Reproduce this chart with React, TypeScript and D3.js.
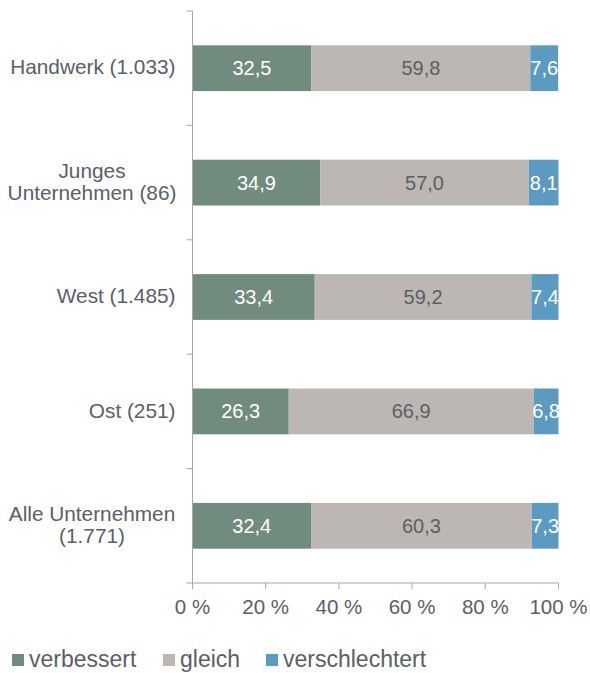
import React from "react";
import * as d3 from "d3";

const categories = ["Handwerk (1.033)", "Junges|Unternehmen (86)", "West (1.485)", "Ost (251)", "Alle Unternehmen|(1.771)"];
const verbessert = [32.5, 34.9, 33.4, 26.3, 32.4];
const gleich = [59.8, 57.0, 59.2, 66.9, 60.3];
const verschlechtert = [7.6, 8.1, 7.4, 6.8, 7.3];
const seriesNames = ["verbessert", "gleich", "verschlechtert"];
const xTicks = [0, 20, 40, 60, 80, 100];

const colors = ["#718B7E", "#BCB7B2", "#5B9BC1"];
const labelColors = ["#ffffff", "#5A6066", "#ffffff"];
const font = "Liberation Sans, Arial, sans-serif";
const textColor = "#5A6066";

export default function App() {
  const W = 590, H = 673;
  const left = 192.5, right = 558.5, top = 11, bottom = 583;
  const x = d3.scaleLinear().domain([0, 100]).range([left, right]);
  const y = d3.scaleBand<number>().domain(d3.range(categories.length)).range([top, bottom]).paddingInner(0.6).paddingOuter(0.3);
  const step = y.step();
  const series = [verbessert, gleich, verschlechtert];
  const fmt = (v: number) => v.toFixed(1).replace(".", ",");

  return (
    <svg width={W} height={H} style={{ display: "block", position: "absolute", left: 0, top: 0 }} fontFamily={font}>
      {categories.map((c, i) => {
        let acc = 0;
        return (
          <g key={i}>
            {series.map((s, k) => {
              const x0 = x(acc);
              acc += s[i];
              const x1 = x(acc);
              const yy = y(i)!;
              return (
                <g key={k}>
                  <rect x={x0} y={yy} width={x1 - x0} height={y.bandwidth()} fill={colors[k]} />
                  <text x={(x0 + x1) / 2} y={yy + y.bandwidth() / 2} dy="0.35em" textAnchor="middle" fontSize={20} fill={labelColors[k]}>
                    {fmt(s[i])}
                  </text>
                </g>
              );
            })}
          </g>
        );
      })}
      <line x1={left} x2={left} y1={top} y2={bottom} stroke="#A6A6A6" strokeWidth={1} />
      {d3.range(categories.length + 1).map((j) => (
        <line key={j} x1={left - 6} x2={left} y1={top + j * step} y2={top + j * step} stroke="#A6A6A6" strokeWidth={1} />
      ))}
      {categories.map((c, i) => {
        const lines = c.split("|");
        const cy = y(i)! + y.bandwidth() / 2;
        const lh = 22.5;
        return (
          <text key={i} textAnchor={lines.length > 1 ? "middle" : "end"} fontSize={20.8} fill={textColor}>
            {lines.map((l, li) => (
              <tspan key={li} x={lines.length > 1 ? 92 : left - 17} y={cy + (li - (lines.length - 1) / 2) * lh - 1} dy="0.35em">
                {l}
              </tspan>
            ))}
          </text>
        );
      })}
      <line x1={left} x2={right} y1={bottom} y2={bottom} stroke="#A6A6A6" strokeWidth={1} />
      {xTicks.map((t) => (
        <g key={t}>
          <line x1={x(t)} x2={x(t)} y1={bottom} y2={bottom + 6} stroke="#A6A6A6" strokeWidth={1} />
          <text x={x(t)} y={bottom + 31} textAnchor="middle" fontSize={20.5} fill={textColor}>
            {t} %
          </text>
        </g>
      ))}
      {seriesNames.map((n, k) => {
        const lx = [12, 163, 266][k];
        return (
          <g key={n}>
            <rect x={lx} y={654} width={12} height={12} fill={colors[k]} />
            <text x={lx + 17} y={667} fontSize={23} fill={textColor}>{n}</text>
          </g>
        );
      })}
    </svg>
  );
}
